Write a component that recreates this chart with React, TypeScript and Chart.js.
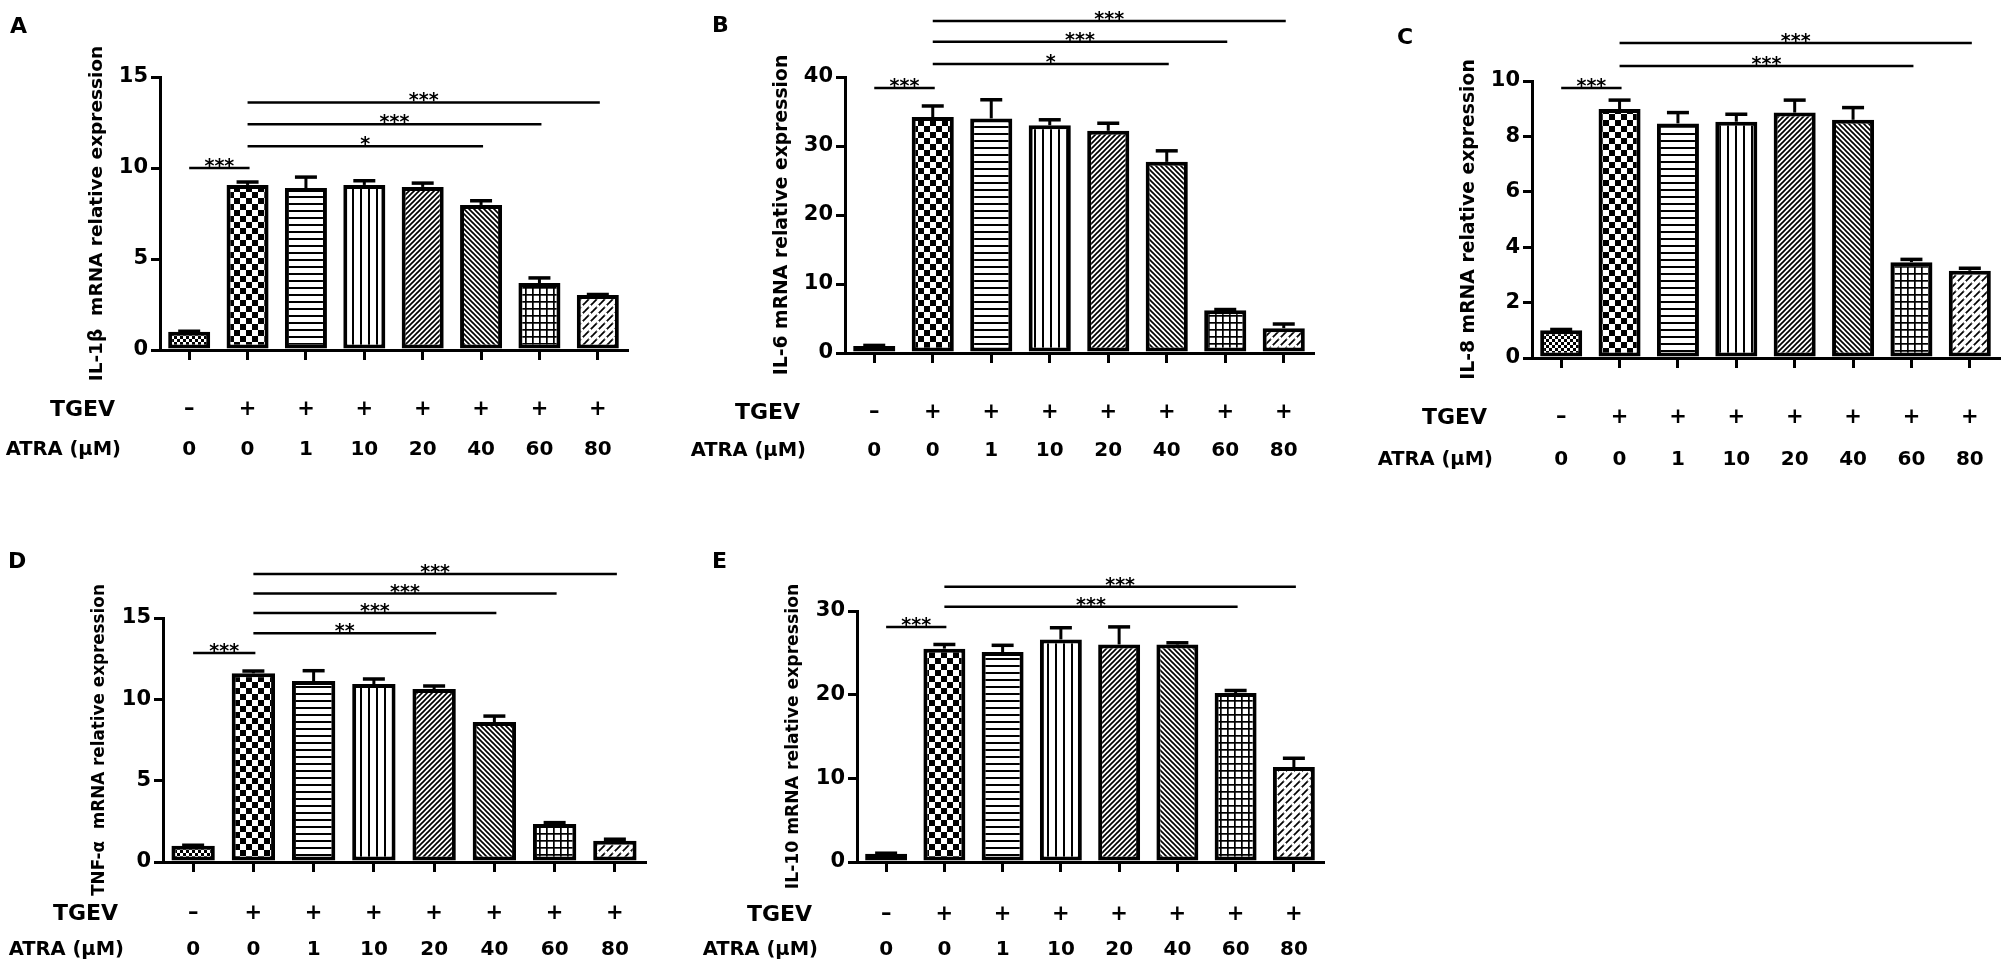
import { useEffect, useRef } from 'react'
import { Chart, registerables } from 'chart.js'
import type { ChartConfiguration, Plugin } from 'chart.js'

Chart.register(...registerables)

const FONT = "'DejaVu Sans', Verdana, sans-serif"

// groups: mock, TGEV alone, then TGEV with rising ATRA doses
const groups = ['Mock', 'TGEV', 'TGEV+ATRA 1', 'TGEV+ATRA 10', 'TGEV+ATRA 20', 'TGEV+ATRA 40', 'TGEV+ATRA 60', 'TGEV+ATRA 80']
const tgevRow = ['–', '+', '+', '+', '+', '+', '+', '+']
const atraRow = ['0', '0', '1', '10', '20', '40', '60', '80']

// mRNA relative expression (mean, SEM)
const il1bMean = [1.0, 9.07, 8.9, 9.07, 8.96, 7.97, 3.68, 3.02]
const il1bSem = [0.03, 0.16, 0.6, 0.23, 0.21, 0.23, 0.28, 0.03]
const il6Mean = [1.0, 34.2, 34.0, 33.0, 32.2, 27.7, 6.2, 3.6]
const il6Sem = [0.1, 1.6, 2.7, 0.8, 1.1, 1.6, 0.1, 0.6]
const il8Mean = [1.0, 8.99, 8.47, 8.53, 8.86, 8.6, 3.46, 3.15]
const il8Sem = [0.03, 0.32, 0.39, 0.27, 0.45, 0.44, 0.1, 0.09]
const tnfMean = [1.0, 11.6, 11.12, 10.94, 10.63, 8.6, 2.34, 1.3]
const tnfSem = [0.03, 0.14, 0.64, 0.31, 0.19, 0.37, 0.08, 0.1]
const il10Mean = [1.0, 25.5, 25.1, 26.6, 26.0, 26.0, 20.2, 11.35]
const il10Sem = [0.05, 0.5, 0.8, 1.4, 2.1, 0.2, 0.3, 1.05]

// significance bars: [from group, to group, height in axis units, label]
type Bracket = [number, number, number, string]
const il1bSig: Bracket[] = [[0, 1, 10.0, '***'], [1, 5, 11.2, '*'], [1, 6, 12.4, '***'], [1, 7, 13.6, '***']]
const il6Sig: Bracket[] = [[0, 1, 38.4, '***'], [1, 5, 41.9, '*'], [1, 6, 45.1, '***'], [1, 7, 48.1, '***']]
const il8Sig: Bracket[] = [[0, 1, 9.75, '***'], [1, 6, 10.54, '***'], [1, 7, 11.37, '***']]
const tnfSig: Bracket[] = [[0, 1, 12.85, '***'], [1, 4, 14.07, '**'], [1, 5, 15.3, '***'], [1, 6, 16.5, '***'], [1, 7, 17.7, '***']]
const il10Sig: Bracket[] = [[0, 1, 28.1, '***'], [1, 6, 30.5, '***'], [1, 7, 32.9, '***']]

interface PanelSpec {
  letter: string
  letterX: number
  letterY: number
  title: string
  titleSize: number
  mean: number[]
  sem: number[]
  sig: Bracket[]
  max: number
  step: number
  left: number
  top: number
  width: number
  height: number
  axisL: number
  axisR: number
  axisT: number
  axisB: number
  tgevDy: number
  atraDy: number
}

const panels: PanelSpec[] = [
  { letter: 'A', letterX: 10, letterY: 33, title: 'IL-1β  mRNA relative expression', titleSize: 18.5, mean: il1bMean, sem: il1bSem, sig: il1bSig, max: 15, step: 5,
    left: 0, top: 0, width: 640, height: 480, axisL: 160, axisR: 627, axisT: 77, axisB: 350, tgevDy: 60, atraDy: 100 },
  { letter: 'B', letterX: 712, letterY: 32, title: 'IL-6 mRNA relative expression', titleSize: 18.8, mean: il6Mean, sem: il6Sem, sig: il6Sig, max: 40, step: 10,
    left: 690, top: 0, width: 640, height: 480, axisL: 845, axisR: 1313, axisT: 77, axisB: 353, tgevDy: 60, atraDy: 98 },
  { letter: 'C', letterX: 1397, letterY: 44, title: 'IL-8 mRNA relative expression', titleSize: 18.8, mean: il8Mean, sem: il8Sem, sig: il8Sig, max: 10, step: 2,
    left: 1375, top: 0, width: 633, height: 480, axisL: 1532, axisR: 1999, axisT: 81, axisB: 358, tgevDy: 60, atraDy: 102 },
  { letter: 'D', letterX: 8, letterY: 568, title: 'TNF-α  mRNA relative expression', titleSize: 16.8, mean: tnfMean, sem: tnfSem, sig: tnfSig, max: 15, step: 5,
    left: 0, top: 490, width: 660, height: 476, axisL: 163, axisR: 645, axisT: 618, axisB: 862, tgevDy: 52, atraDy: 88 },
  { letter: 'E', letterX: 712, letterY: 568, title: 'IL-10 mRNA relative expression', titleSize: 17.2, mean: il10Mean, sem: il10Sem, sig: il10Sig, max: 30, step: 10,
    left: 695, top: 490, width: 640, height: 476, axisL: 857, axisR: 1323, axisT: 611, axisB: 862, tgevDy: 53, atraDy: 88 }
]

// one hatch per group, in the same order as the bars
function makePattern(ctx: CanvasRenderingContext2D, kind: number): CanvasPattern {
  const sizes = [[6, 6], [12, 12], [4, 7], [8, 4], [5, 5], [5, 5], [7, 7], [8, 8]]
  const [w, h] = sizes[kind]
  const tile = document.createElement('canvas')
  tile.width = w
  tile.height = h
  const g = tile.getContext('2d')!
  g.fillStyle = '#fff'
  g.fillRect(0, 0, w, h)
  g.fillStyle = '#000'
  g.strokeStyle = '#000'
  const line = (x1: number, y1: number, x2: number, y2: number) => {
    g.beginPath()
    g.moveTo(x1, y1)
    g.lineTo(x2, y2)
    g.stroke()
  }
  switch (kind) {
    case 0:
      g.fillRect(0, 0, 3, 3)
      g.fillRect(3, 3, 3, 3)
      break
    case 1:
      g.fillRect(0, 0, 6, 6)
      g.fillRect(6, 6, 6, 6)
      break
    case 2:
      g.fillRect(0, 0, w, 2)
      break
    case 3:
      g.fillRect(0, 0, 2, h)
      break
    case 4:
      g.lineWidth = 1.7
      for (const o of [0, 5, 10]) line(o + 1, -1, -1, o + 1)
      break
    case 5:
      g.lineWidth = 1.7
      for (const c of [-5, 0, 5]) line(c - 1, -1, c + 6, 6)
      break
    case 6:
      g.fillRect(0, 0, w, 1.7)
      g.fillRect(0, 0, 1.7, h)
      break
    case 7:
      g.lineWidth = 1.8
      line(-1, 9, 9, -1)
      line(-1, 1, 1, -1)
      line(7, 9, 9, 7)
      g.fillStyle = '#fff'
      g.fillRect(4.6, 0.8, 2.8, 2.8)
      break
  }
  return ctx.createPattern(tile, 'repeat')!
}

function Panel({ spec }: { spec: PanelSpec }) {
  const canvasRef = useRef<HTMLCanvasElement>(null)

  useEffect(() => {
    const canvas = canvasRef.current
    if (!canvas) return
    const ctx0 = canvas.getContext('2d')!
    const patterns = groups.map((_, i) => makePattern(ctx0, i))

    const areaL = spec.axisL - spec.left
    const areaR = spec.axisR - spec.left
    const areaT = spec.axisT - spec.top
    const areaB = spec.axisB - spec.top

    const overlay: Plugin<'bar'> = {
      id: 'overlay',
      afterDatasetsDraw(chart) {
        const { ctx } = chart
        const x = chart.scales.x
        const y = chart.scales.y
        ctx.save()
        ctx.strokeStyle = '#000'
        spec.mean.forEach((m, i) => {
          const cx = x.getPixelForValue(i)
          const top = y.getPixelForValue(m)
          const cap = y.getPixelForValue(m + spec.sem[i])
          ctx.lineWidth = 3
          ctx.beginPath()
          ctx.moveTo(cx, top)
          ctx.lineTo(cx, cap)
          ctx.stroke()
          ctx.lineWidth = 3.5
          ctx.beginPath()
          ctx.moveTo(cx - 11, cap)
          ctx.lineTo(cx + 11, cap)
          ctx.stroke()
        })
        ctx.restore()
      },
      afterDraw(chart) {
        const { ctx, chartArea } = chart
        const x = chart.scales.x
        const y = chart.scales.y
        ctx.save()
        ctx.fillStyle = '#000'
        ctx.strokeStyle = '#000'

        // significance bars
        ctx.lineWidth = 2.5
        ctx.font = `bold 19px ${FONT}`
        ctx.textAlign = 'center'
        ctx.textBaseline = 'alphabetic'
        for (const [from, to, at, label] of spec.sig) {
          const x1 = x.getPixelForValue(from)
          const x2 = x.getPixelForValue(to) + 2
          const py = y.getPixelForValue(at)
          ctx.beginPath()
          ctx.moveTo(x1, py)
          ctx.lineTo(x2, py)
          ctx.stroke()
          ctx.fillText(label, (x1 + x2) / 2, py + 4)
        }

        // treatment table under the axis
        ctx.textBaseline = 'middle'
        ctx.font = `bold 21px ${FONT}`
        tgevRow.forEach((s, i) => ctx.fillText(s, x.getPixelForValue(i), chartArea.bottom + spec.tgevDy))
        ctx.font = `bold 20px ${FONT}`
        atraRow.forEach((s, i) => ctx.fillText(s, x.getPixelForValue(i), chartArea.bottom + spec.atraDy))
        ctx.textAlign = 'right'
        ctx.font = `bold 22px ${FONT}`
        ctx.fillText('TGEV', chartArea.left - 45, chartArea.bottom + spec.tgevDy)
        ctx.font = `bold 19.5px ${FONT}`
        ctx.fillText('ATRA (μM)', chartArea.left - 39, chartArea.bottom + spec.atraDy)

        // y title
        ctx.save()
        ctx.translate(chartArea.left - 63, (chartArea.top + chartArea.bottom) / 2)
        ctx.rotate(-Math.PI / 2)
        ctx.textAlign = 'center'
        ctx.font = `bold ${spec.titleSize}px ${FONT}`
        ctx.fillText(spec.title, 0, 0)
        ctx.restore()

        // panel letter
        ctx.textAlign = 'left'
        ctx.textBaseline = 'alphabetic'
        ctx.font = `bold 22px ${FONT}`
        ctx.fillText(spec.letter, spec.letterX - spec.left, spec.letterY - spec.top)
        ctx.restore()
      }
    }

    const config: ChartConfiguration<'bar'> = {
      type: 'bar',
      data: {
        labels: groups,
        datasets: [{
          data: spec.mean,
          backgroundColor: patterns,
          borderColor: '#000',
          borderWidth: 4,
          borderSkipped: false,
          barPercentage: 0.72,
          categoryPercentage: 1
        }]
      },
      options: {
        responsive: false,
        animation: false,
        events: [],
        layout: { padding: { top: areaT, right: spec.width - areaR, left: 0, bottom: 0 } },
        plugins: {
          legend: { display: false },
          tooltip: { enabled: false },
          title: { display: false }
        },
        scales: {
          x: {
            type: 'category',
            offset: true,
            grid: { display: true, drawOnChartArea: false, drawTicks: true, tickLength: 10, lineWidth: 3, color: '#000', offset: false },
            border: { display: true, color: '#000', width: 3 },
            ticks: { autoSkip: false, callback: () => '', padding: 0 },
            afterFit: (scale) => { scale.height = spec.height - areaB }
          },
          y: {
            min: 0,
            max: spec.max,
            grid: { display: true, drawOnChartArea: false, drawTicks: true, tickLength: 9, lineWidth: 3, color: '#000' },
            border: { display: true, color: '#000', width: 3 },
            ticks: { stepSize: spec.step, color: '#000', padding: 3, font: { family: FONT, size: 21, weight: 'bold' } },
            afterFit: (scale) => { scale.width = areaL }
          }
        }
      },
      plugins: [overlay]
    }

    const chart = new Chart(canvas, config)
    return () => {
      chart.destroy()
    }
  }, [spec])

  return (
    <canvas
      ref={canvasRef}
      width={spec.width}
      height={spec.height}
      style={{ position: 'absolute', left: spec.left, top: spec.top, width: spec.width, height: spec.height }}
    />
  )
}

export default function App() {
  return (
    <div style={{ position: 'absolute', left: 0, top: 0, width: 2008, height: 966, background: '#fff', overflow: 'hidden' }}>
      {panels.map((p) => <Panel key={p.letter} spec={p} />)}
    </div>
  )
}
